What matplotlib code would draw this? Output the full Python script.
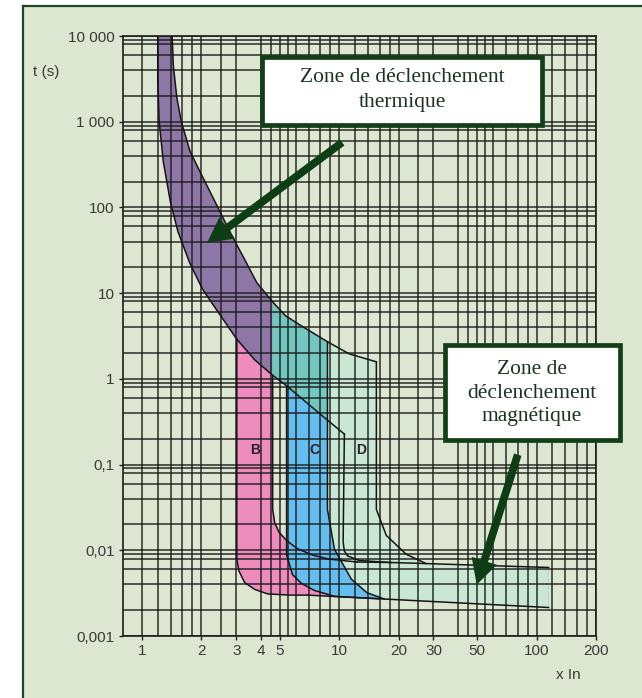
import numpy as np
import matplotlib.pyplot as plt
from matplotlib.patches import Rectangle
from matplotlib.lines import Line2D
from matplotlib.ticker import FixedLocator, NullFormatter

# thermal band: x In -> t (s)
therm_lo_x = [1.20, 1.20, 1.22, 1.28, 1.39, 1.52, 1.75, 2.03, 2.48, 3.02, 3.72, 4.59, 5.40, 6.28, 8.70, 10.6]
therm_lo_t = [10000, 2980, 1014, 345, 117, 52, 22, 11, 5.6, 2.9, 1.67, 1.1, 0.83, 0.62, 0.33, 0.227]
therm_hi_x = [1.42, 1.44, 1.50, 1.58, 1.75, 1.96, 2.34, 2.85, 3.31, 3.81, 4.59, 5.33, 6.28, 8.70, 11.2, 15.4]
therm_hi_t = [10000, 4500, 1900, 1000, 450, 264, 117, 47, 24.7, 13.3, 7.9, 5.45, 4.28, 2.71, 1.96, 1.58]

# magnetic curves B, C, D
b_lo_x = [3.02, 3.02, 3.09, 3.31, 3.72, 4.33, 5.59, 6.89]
b_lo_t = [2.9, 0.0079, 0.0058, 0.0042, 0.0035, 0.0031, 0.0030, 0.0030]
b_hi_x = [4.59, 4.59, 4.70, 4.95, 5.40, 6.10, 7.30, 8.80, 12.3]
b_hi_t = [1.1, 0.030, 0.021, 0.0162, 0.0130, 0.0105, 0.0088, 0.0079, 0.0073]
c_lo_x = [5.40, 5.40, 5.79, 6.43, 7.48, 9.44, 15.9]
c_lo_t = [0.83, 0.0088, 0.0052, 0.0041, 0.0034, 0.0029, 0.00272]
c_hi_x = [10.6, 10.45, 10.6, 11.0, 12.6, 18.3]
c_hi_t = [0.227, 0.0125, 0.0098, 0.0086, 0.0076, 0.0072]
d_lo_x = [8.70, 8.70, 9.44, 11.5, 13.8, 16.9]
d_lo_t = [2.71, 0.030, 0.0103, 0.0046, 0.0032, 0.0027]
d_hi_x = [15.4, 15.4, 17.3, 21.8, 27.5]
d_hi_t = [1.58, 0.030, 0.0149, 0.0090, 0.0070]
tail_hi_x = [12.3, 18.3, 27.5, 115]
tail_hi_t = [0.0073, 0.0072, 0.0070, 0.0063]
tail_lo_x = [6.89, 16.9, 115]
tail_lo_t = [0.0030, 0.0027, 0.00215]

x_ticks = [1, 2, 3, 4, 5, 10, 20, 30, 50, 100, 200]
x_ticklabels = ['1', '2', '3', '4', '5', '10', '20', '30', '50', '100', '200']
y_ticks = [0.001, 0.01, 0.1, 1, 10, 100, 1000, 10000]
y_ticklabels = ['0,001', '0,01', '0,1', '1', '10', '100', '1 000', '10 000']
x_grid_mant = [1, 1.2, 1.4, 1.6, 1.8, 2, 2.5, 3, 4, 4.5, 5, 5.5, 6, 7, 8, 9]
y_grid_mant = [1, 2, 4, 6, 8, 9]

sage = '#dde6d0'
dkgreen = '#123f17'
col_purple = '#8e76a6'
col_teal = '#72c8be'
col_pink = '#ee8cbe'
col_blue = '#64bef0'
col_mint = '#c8e8d4'


def pts(xs, ts, x0=None, x1=None):
    out = []
    for x, t in zip(xs, ts):
        if (x0 is None or x >= x0) and (x1 is None or x <= x1):
            out.append((x, t))
    return out


lo = (therm_lo_x, therm_lo_t)
hi = (therm_hi_x, therm_hi_t)

purple = pts(*lo, x1=4.59) + pts(*hi, x1=4.59)[::-1]
teal = pts(*lo, 4.59, 8.70) + pts(*hi, 4.59, 8.70)[::-1]
pink = (pts(b_lo_x, b_lo_t) + pts(tail_lo_x, tail_lo_t, x0=7)
        + pts(tail_hi_x, tail_hi_t, x0=12.3)[::-1] + pts(b_hi_x, b_hi_t)[::-1]
        + pts(*lo, 3.02, 4.59)[::-1])
blue = (pts(c_lo_x, c_lo_t) + pts(tail_lo_x, tail_lo_t, x0=16)
        + pts(tail_hi_x, tail_hi_t, x0=18.3)[::-1] + pts(c_hi_x, c_hi_t)[::-1]
        + pts(*lo, 5.40, 10.6)[::-1])
mint = (pts(*hi, 8.70, 15.4) + pts(d_hi_x, d_hi_t) + pts(tail_hi_x, tail_hi_t, x0=28)
        + pts(tail_lo_x, tail_lo_t, x0=17)[::-1] + pts(d_lo_x, d_lo_t)[::-1])

fig = plt.figure(figsize=(6.42, 6.98), dpi=100)
fig.patch.set_facecolor(sage)
W, H = 642.0, 698.0


def fx(px):
    return px / W


def fy(py):
    return 1 - py / H


# white margins + dark frame
fig.add_artist(Rectangle((0, 0), fx(22), 1, transform=fig.transFigure, color='white', zorder=0))
fig.add_artist(Rectangle((0, fy(5)), 1, 1, transform=fig.transFigure, color='white', zorder=0))
fig.add_artist(Line2D([fx(23), fx(23)], [0, fy(6)], transform=fig.transFigure, color='#1e4620', lw=1.6))
fig.add_artist(Line2D([fx(23), 1], [fy(6), fy(6)], transform=fig.transFigure, color='#1e4620', lw=1.6))

ax = fig.add_axes([fx(123), fy(636), 473 / W, 600 / H])
ax.set_facecolor(sage)
ax.set_xscale('log')
ax.set_yscale('log')
ax.set_xlim(0.8, 200)
ax.set_ylim(0.001, 10000)

for poly, c in [(pink, col_pink), (blue, col_blue), (mint, col_mint), (purple, col_purple), (teal, col_teal)]:
    xs, ts = zip(*poly)
    ax.fill(xs, ts, color=c, lw=0, zorder=1)

for xs, ts in [lo, hi, (b_lo_x, b_lo_t), (b_hi_x, b_hi_t), (c_lo_x, c_lo_t), (c_hi_x, c_hi_t),
               (d_lo_x, d_lo_t), (d_hi_x, d_hi_t), (tail_hi_x, tail_hi_t), (tail_lo_x, tail_lo_t)]:
    ax.plot(xs, ts, color='#151515', lw=1.1, zorder=3, solid_joinstyle='round')

# grid of the log paper
xg = [m * 10 ** e for e in range(0, 3) for m in x_grid_mant]
xg = [v for v in xg if v <= 200]
yg = [m * 10 ** e for e in range(-3, 4) for m in y_grid_mant]
ax.xaxis.set_major_locator(FixedLocator(x_ticks))
ax.xaxis.set_minor_locator(FixedLocator(xg))
ax.yaxis.set_major_locator(FixedLocator(y_ticks))
ax.yaxis.set_minor_locator(FixedLocator(yg))
ax.xaxis.set_minor_formatter(NullFormatter())
ax.yaxis.set_minor_formatter(NullFormatter())
ax.set_xticklabels(x_ticklabels)
ax.set_yticklabels(y_ticklabels)
ax.grid(True, which='both', color='#1c1c1c', lw=1.2, alpha=0.85, zorder=2)
ax.set_axisbelow(False)
ax.tick_params(which='minor', length=0)
ax.tick_params(which='major', length=3, width=1, color='#222222', labelsize=11,
               labelcolor='#3a3a3a', pad=3)
for lab in ax.get_xticklabels() + ax.get_yticklabels():
    lab.set_family('Liberation Sans')
for s in ax.spines.values():
    s.set_color('#1c1c1c')
    s.set_linewidth(1.2)

fig.text(fx(46), fy(72), 't (s)', ha='center', va='center', fontsize=11, color='#3a3a3a',
         family='Liberation Sans')
fig.text(fx(568), fy(675), 'x In', ha='center', va='center', fontsize=11, color='#3a3a3a',
         family='Liberation Sans')

for lab, xv in [('B', 3.72), ('C', 7.5), ('D', 12.9)]:
    ax.text(xv, 0.148, lab, ha='center', va='center', fontsize=10, fontweight='bold',
            color='#2a1f2a', family='Liberation Sans', zorder=4)

# arrows
arrow_style = 'simple,head_length=0.9,head_width=0.95,tail_width=0.28'
ax.annotate('', xy=(2.08, 36.9), xytext=(10.6, 600),
            arrowprops=dict(arrowstyle=arrow_style, mutation_scale=20, color='#0d3d12', lw=0),
            zorder=5)
ax.annotate('', xy=(49.2, 0.0037), xytext=(81, 0.14),
            arrowprops=dict(arrowstyle=arrow_style, mutation_scale=20, color='#0d3d12', lw=0),
            zorder=5)

# label boxes
fig.add_artist(Rectangle((fx(262), fy(125)), 280 / W, 68 / H, transform=fig.transFigure,
                         facecolor='white', edgecolor=dkgreen, lw=3.4, zorder=6))
fig.text(fx(402), fy(90), 'Zone de déclenchement\nthermique', ha='center', va='center',
         fontsize=15.5, color='#1b3320', family='Liberation Serif', linespacing=1.45, zorder=7)
fig.add_artist(Rectangle((fx(445), fy(440)), 175 / W, 95 / H, transform=fig.transFigure,
                         facecolor='white', edgecolor=dkgreen, lw=3.4, zorder=6))
fig.text(fx(532), fy(393), 'Zone de\ndéclenchement\nmagnétique', ha='center', va='center',
         fontsize=15.5, color='#1b3320', family='Liberation Serif', linespacing=1.35, zorder=7)

fig.savefig('out.png', dpi=100)
